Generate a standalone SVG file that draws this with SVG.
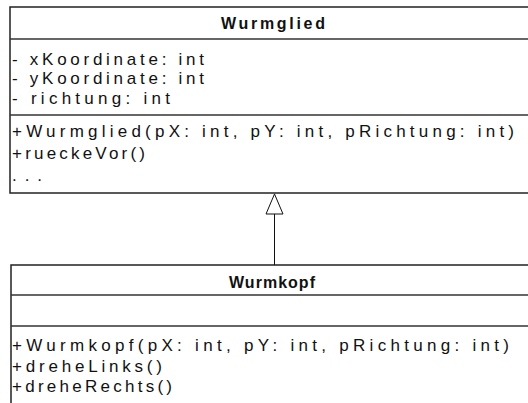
<svg xmlns="http://www.w3.org/2000/svg" width="528" height="403" viewBox="0 0 528 403">
<defs>
<style>
.box{fill:#fff;stroke:#222;stroke-width:1.5}
.sep{stroke:#333;stroke-width:1.5}
.t{font-family:"Liberation Sans",Arial,sans-serif;font-size:17px;fill:#111}
.b{font-weight:bold;text-anchor:middle;font-size:16px}
.edge{stroke:#111;stroke-width:1;fill:none}
.head{fill:#fff;stroke:#111;stroke-width:1}
</style>
</defs>
<rect width="528" height="403" fill="#fff"/>
<g id="Wurmglied">
<rect class="box" x="10" y="7" width="540" height="186"/>
<line class="sep" x1="10" y1="39" x2="550" y2="39"/>
<line class="sep" x1="10" y1="115" x2="550" y2="115"/>
<text class="t b" x="273" y="29" textLength="104" lengthAdjust="spacing">Wurmglied</text>
<text class="t" x="12" y="65" textLength="192" lengthAdjust="spacing">- xKoordinate: int</text>
<text class="t" x="12" y="84" textLength="192" lengthAdjust="spacing">- yKoordinate: int</text>
<text class="t" x="12" y="104" textLength="158" lengthAdjust="spacing">- richtung: int</text>
<text class="t" x="12" y="137" textLength="502" lengthAdjust="spacing">+Wurmglied(pX: int, pY: int, pRichtung: int)</text>
<text class="t" x="12" y="159" textLength="133" lengthAdjust="spacing">+rueckeVor()</text>
<text class="t" x="12" y="181" textLength="30" lengthAdjust="spacing">...</text>
</g>
<g id="Wurmkopf">
<rect class="box" x="11" y="265" width="540" height="150"/>
<line class="sep" x1="11" y1="295" x2="551" y2="295"/>
<line class="sep" x1="11" y1="326" x2="551" y2="326"/>
<text class="t b" x="272" y="288" textLength="86" lengthAdjust="spacing">Wurmkopf</text>
<text class="t" x="12" y="351" textLength="497" lengthAdjust="spacing">+Wurmkopf(pX: int, pY: int, pRichtung: int)</text>
<text class="t" x="12" y="372" textLength="150" lengthAdjust="spacing">+dreheLinks()</text>
<text class="t" x="12" y="392" textLength="160" lengthAdjust="spacing">+dreheRechts()</text>
</g>
<g id="connectors">
<line class="edge" x1="274.5" y1="214" x2="274.5" y2="265"/>
<polygon class="head" points="274.5,194 266,214 283,214"/>
</g>
</svg>
